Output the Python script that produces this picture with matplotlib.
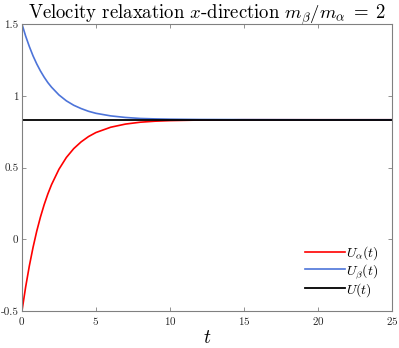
import numpy as np
import matplotlib
matplotlib.use("Agg")
import matplotlib.pyplot as plt

plt.rcParams['font.family'] = 'serif'
plt.rcParams['font.serif'] = ['cmr10']
plt.rcParams['mathtext.fontset'] = 'cm'
plt.rcParams['axes.formatter.use_mathtext'] = True

# values
t = [0, 0.25, 0.5, 0.75, 1, 1.25, 1.5, 1.75, 2, 2.5, 3, 3.5, 4, 4.5, 5,
     6, 7, 8, 9, 10, 12, 15, 20, 25]
u_alpha = [-0.5, -0.332, -0.185, -0.056, 0.057, 0.155, 0.241, 0.316, 0.381,
           0.488, 0.570, 0.632, 0.679, 0.716, 0.744, 0.781, 0.803, 0.816,
           0.823, 0.827, 0.831, 0.833, 0.833, 0.833]
u_beta = [1.5, 1.416, 1.343, 1.278, 1.222, 1.173, 1.130, 1.092, 1.060,
          1.006, 0.965, 0.934, 0.911, 0.892, 0.878, 0.860, 0.849, 0.842,
          0.839, 0.837, 0.835, 0.834, 0.833, 0.833]
t_mean = [0, 25]
u_mean = [0.8333, 0.8333]

fig = plt.figure(figsize=(3.99, 3.48), dpi=100)
ax = fig.add_axes([0.055, 0.106, 0.927, 0.825])

ax.plot(t, u_alpha, color='#ff0000', lw=1.2, label=r'$U_\alpha(t)$')
ax.plot(t, u_beta, color='#4d74d9', lw=1.2, label=r'$U_\beta(t)$')
ax.plot(t_mean, u_mean, color='black', lw=1.3, label=r'$U(t)$')

ax.set_xlim(0, 25)
ax.set_ylim(-0.5, 1.5)
ax.set_xticks([0, 5, 10, 15, 20, 25])
ax.set_yticks([-0.5, 0, 0.5, 1, 1.5])
ax.set_yticklabels(['-0.5', '0', '0.5', '1', '1.5'])
ax.tick_params(direction='in', length=3, width=0.6, color='#808080',
               labelsize=8, pad=2.5, top=True, right=True, labelcolor='#262626')
for s in ax.spines.values():
    s.set_color('#808080')
    s.set_linewidth(0.8)

ax.set_title(r'Velocity relaxation $x$-direction $m_\beta/m_\alpha\;=\;2$',
             fontsize=13.5, pad=4)
ax.set_xlabel(r'$t$', fontsize=14, labelpad=2)

ax.legend(loc='lower right', frameon=False, fontsize=10, handlelength=2.9,
          handletextpad=0.1, labelspacing=0.0, borderaxespad=0.5)

fig.savefig('out.png', dpi=100)
